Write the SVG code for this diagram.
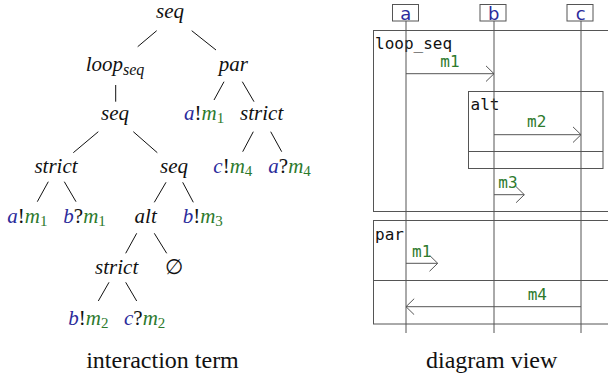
<svg xmlns="http://www.w3.org/2000/svg" width="608" height="379" viewBox="0 0 608 379">
<style>
.t{font-family:"Liberation Serif","DejaVu Serif",serif;font-style:italic;font-size:21px;fill:#111}
.sub{font-style:normal;font-size:15px}
.subi{font-size:16px}
.b{fill:#2b2b9b}
.g{fill:#2d7a2d}
.k{fill:#111;font-style:normal}
.cap{font-family:"Liberation Serif","DejaVu Serif",serif;font-size:24px;fill:#111;text-anchor:middle}
.e{stroke:#111;stroke-width:1;fill:none}
.m{font-family:"DejaVu Sans Mono",monospace;font-size:16px;fill:#111}
.mg{font-family:"DejaVu Sans Mono",monospace;font-size:16px;fill:#2d7a2d;text-anchor:middle}
.hd{font-family:"DejaVu Sans",sans-serif;font-size:18px;fill:#2b2b9b;text-anchor:middle}
.fr{fill:none;stroke:#555;stroke-width:1}
.ll{stroke:#555;stroke-width:1}
.ar{stroke:#555;stroke-width:1;fill:none;marker-end:url(#open)}
</style>
<defs>
<marker id="open" viewBox="0 0 9 18" refX="8.5" refY="8.5" markerWidth="9" markerHeight="18" markerUnits="userSpaceOnUse" orient="auto">
<path d="M0.3,0.5 L8.5,8.5 L0.3,16.5" fill="none" stroke="#555" stroke-width="1"/>
</marker>
</defs>

<g id="tree-edges">
<line class="e" x1="156.7" y1="30.7" x2="137.7" y2="46.7"/>
<line class="e" x1="191.7" y1="30.7" x2="216" y2="50"/>
<line class="e" x1="115.7" y1="85" x2="115.7" y2="101.7"/>
<line class="e" x1="224" y1="81.7" x2="214" y2="100"/>
<line class="e" x1="242.3" y1="81.7" x2="254" y2="101.7"/>
<line class="e" x1="98.3" y1="131.7" x2="73.3" y2="152.7"/>
<line class="e" x1="133.3" y1="131.7" x2="157.3" y2="152.7"/>
<line class="e" x1="253.3" y1="131.7" x2="242.7" y2="151.7"/>
<line class="e" x1="270.7" y1="131.7" x2="281.7" y2="151.7"/>
<line class="e" x1="48.3" y1="181.7" x2="37.3" y2="201.7"/>
<line class="e" x1="64.3" y1="181.7" x2="76" y2="201.7"/>
<line class="e" x1="166" y1="182.3" x2="154.3" y2="202.3"/>
<line class="e" x1="182.7" y1="182.3" x2="193.3" y2="202.3"/>
<line class="e" x1="136.7" y1="233.3" x2="125.7" y2="253.3"/>
<line class="e" x1="154.3" y1="233.3" x2="166.7" y2="253.3"/>
<line class="e" x1="109" y1="282.3" x2="98.3" y2="301"/>
<line class="e" x1="125.7" y1="282.3" x2="136.7" y2="301"/>
</g>

<g id="n-seq0"><text class="t" x="170" y="18.3" text-anchor="middle">seq</text></g>
<g id="n-loopseq"><text class="t" x="115" y="71" text-anchor="middle">loop<tspan class="subi" dy="4">seq</tspan></text></g>
<g id="n-par"><text class="t" x="233.3" y="71" text-anchor="middle">par</text></g>
<g id="n-seq1"><text class="t" x="115" y="120" text-anchor="middle">seq</text></g>
<g id="n-am1a"><text class="t" x="184" y="120"><tspan class="b">a</tspan><tspan class="k">!</tspan><tspan class="g">m</tspan><tspan class="g sub" dy="3">1</tspan></text></g>
<g id="n-strict0"><text class="t" x="261.7" y="120" text-anchor="middle">strict</text></g>
<g id="n-strict1"><text class="t" x="56" y="173.3" text-anchor="middle">strict</text></g>
<g id="n-seq2"><text class="t" x="174" y="173.3" text-anchor="middle">seq</text></g>
<g id="n-cm4"><text class="t" x="213.3" y="173.3"><tspan class="b">c</tspan><tspan class="k">!</tspan><tspan class="g">m</tspan><tspan class="g sub" dy="3">4</tspan></text></g>
<g id="n-am4"><text class="t" x="268.3" y="173.3"><tspan class="b">a</tspan><tspan class="k">?</tspan><tspan class="g">m</tspan><tspan class="g sub" dy="3">4</tspan></text></g>
<g id="n-am1b"><text class="t" x="7.3" y="223.3"><tspan class="b">a</tspan><tspan class="k">!</tspan><tspan class="g">m</tspan><tspan class="g sub" dy="3">1</tspan></text></g>
<g id="n-bm1"><text class="t" x="63.3" y="223.3"><tspan class="b">b</tspan><tspan class="k">?</tspan><tspan class="g">m</tspan><tspan class="g sub" dy="3">1</tspan></text></g>
<g id="n-alt"><text class="t" x="145.7" y="223.3" text-anchor="middle">alt</text></g>
<g id="n-bm3"><text class="t" x="182.7" y="223.3"><tspan class="b">b</tspan><tspan class="k">!</tspan><tspan class="g">m</tspan><tspan class="g sub" dy="3">3</tspan></text></g>
<g id="n-strict2"><text class="t" x="116.7" y="274.3" text-anchor="middle">strict</text></g>
<g id="n-empty"><text class="t" x="174" y="274.3" text-anchor="middle" style="font-style:normal">∅</text></g>
<g id="n-bm2"><text class="t" x="68.3" y="325"><tspan class="b">b</tspan><tspan class="k">!</tspan><tspan class="g">m</tspan><tspan class="g sub" dy="3">2</tspan></text></g>
<g id="n-cm2"><text class="t" x="124" y="325"><tspan class="b">c</tspan><tspan class="k">?</tspan><tspan class="g">m</tspan><tspan class="g sub" dy="3">2</tspan></text></g>

<text class="cap" x="162.5" y="368.3">interaction term</text>
<text class="cap" x="491.7" y="368.3">diagram view</text>

<g id="frames">
<rect class="fr" x="373.5" y="30.5" width="250" height="181"/>
<rect class="fr" x="468.5" y="91.5" width="134.5" height="77"/>
<line class="fr" x1="468.5" y1="151.5" x2="603" y2="151.5"/>
<rect class="fr" x="373.5" y="220.5" width="250" height="103.5"/>
<line class="fr" x1="373.5" y1="280.5" x2="623.5" y2="280.5"/>
<text class="m" x="375" y="49">loop_seq</text>
<text class="m" x="470.5" y="110">alt</text>
<text class="m" x="375" y="240">par</text>
</g>

<g id="lifeline-a">
<rect class="fr" x="392.5" y="4.5" width="26" height="16.5"/>
<line class="ll" x1="406" y1="21" x2="406" y2="333"/>
<text class="hd" x="405.7" y="20">a</text>
</g>
<g id="lifeline-b">
<rect class="fr" x="480" y="4.5" width="26" height="16.5"/>
<line class="ll" x1="494" y1="21" x2="494" y2="333"/>
<text class="hd" x="493.7" y="20">b</text>
</g>
<g id="lifeline-c">
<rect class="fr" x="567" y="4.5" width="26" height="16.5"/>
<line class="ll" x1="581" y1="21" x2="581" y2="333"/>
<text class="hd" x="580.7" y="20">c</text>
</g>

<g id="messages">
<line class="ar" x1="406" y1="73.7" x2="494" y2="73.7"/>
<text class="mg" x="450" y="66.5">m1</text>
<line class="ar" x1="494" y1="134.7" x2="581" y2="134.7"/>
<text class="mg" x="536.7" y="127.3">m2</text>
<line class="ar" x1="494" y1="194.7" x2="524.3" y2="194.7"/>
<text class="mg" x="508" y="188">m3</text>
<line class="ar" x1="406" y1="263.3" x2="437.7" y2="263.3"/>
<text class="mg" x="421.7" y="256.7">m1</text>
<line class="ar" x1="581" y1="306.7" x2="406" y2="306.7"/>
<text class="mg" x="537.3" y="300">m4</text>
</g>
</svg>
